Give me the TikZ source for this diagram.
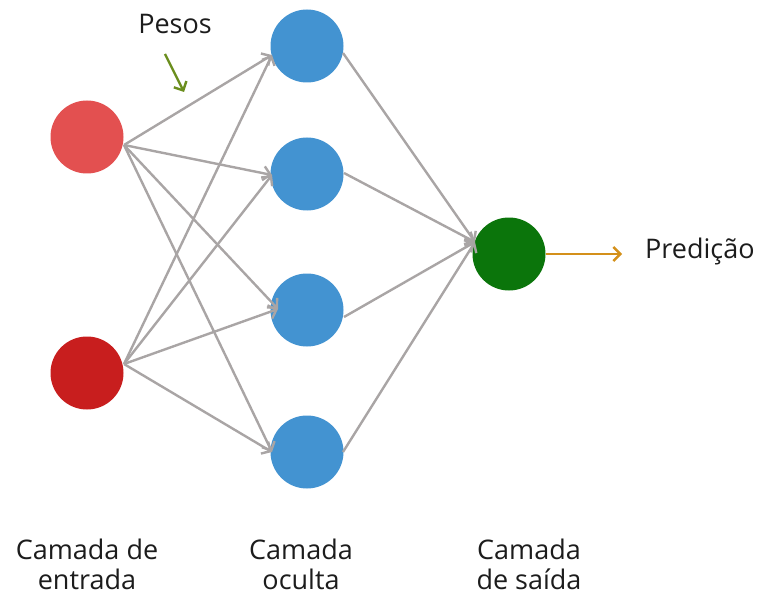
\documentclass[tikz,border=0pt]{standalone}
\usepackage{fontspec}
\setmainfont{Open Sans}
\usetikzlibrary{arrows.meta}
\definecolor{inA}{HTML}{E35050}
\definecolor{inB}{HTML}{C81E1E}
\definecolor{hid}{HTML}{4393D1}
\definecolor{outc}{HTML}{0B750B}
\definecolor{edgec}{HTML}{A9A5A5}
\definecolor{predc}{HTML}{D4901A}
\definecolor{pesc}{HTML}{6B8E1E}
\definecolor{txt}{HTML}{1C1C1C}
\begin{document}
\begin{tikzpicture}[x=1pt,y=-1pt,
  neuron/.style={circle,minimum size=73pt,inner sep=0pt},
  tip/.style={-{Straight Barb[length=7pt,width=14pt]}},
  edge/.style={draw=edgec,line width=2.4pt,tip},
  lbl/.style={font=\fontsize{27}{30}\selectfont,text=txt,align=center,inner sep=0pt},
]
\useasboundingbox (0,0) rectangle (757,596);
\node[neuron,fill=inA] (i1) at (87,137) {};
\node[neuron,fill=inB] (i2) at (87,373) {};
\node[neuron,fill=hid] (h1) at (307,46) {};
\node[neuron,fill=hid] (h2) at (307,174) {};
\node[neuron,fill=hid] (h3) at (307,310) {};
\node[neuron,fill=hid] (h4) at (307,452) {};
\node[neuron,fill=outc] (o) at (509,254) {};
% input 1 edges
\draw[edge] ([shift={(37,8)}]i1.center) -- ([shift={(-35,9)}]h1.center);
\draw[edge] ([shift={(37,8)}]i1.center) -- ([shift={(-35,1)}]h2.center);
\draw[edge] ([shift={(37,8)}]i1.center) -- ([shift={(-29,-1)}]h3.center);
\draw[edge] ([shift={(37,8)}]i1.center) -- ([shift={(-35,0)}]h4.center);
% input 2 edges
\draw[edge] ([shift={(37,-9)}]i2.center) -- ([shift={(-35,9)}]h1.center);
\draw[edge] ([shift={(37,-9)}]i2.center) -- ([shift={(-35,1)}]h2.center);
\draw[edge] ([shift={(37,-9)}]i2.center) -- ([shift={(-29,-1)}]h3.center);
\draw[edge] ([shift={(37,-9)}]i2.center) -- ([shift={(-35,0)}]h4.center);
% hidden to output
\draw[edge] ([shift={(36,7)}]h1.center) -- ([shift={(-34,-12)}]o.center);
\draw[edge] ([shift={(37,-1)}]h2.center) -- ([shift={(-34,-12)}]o.center);
\draw[edge] ([shift={(37,7)}]h3.center) -- ([shift={(-34,-12)}]o.center);
\draw[edge] ([shift={(36,0)}]h4.center) -- ([shift={(-34,-12)}]o.center);
% prediction
\node[lbl,anchor=west] (pred) at (645,251) {Predição};
\coordinate (pend) at (622,254);
\draw[draw=predc,line width=2.4pt,tip] (o.east) -- (pend);
% pesos
\node[lbl] (pesos) at (175,24) {Pesos};
\coordinate (pa) at (165,54);
\coordinate (pb) at (184,92);
\draw[draw=pesc,line width=2.4pt,tip] (pa) -- (pb);
% layer labels
\node[lbl] (l1) at (87,564) {Camada de\\entrada};
\node[lbl] (l2) at (301,564) {Camada\\oculta};
\node[lbl] (l3) at (529,564) {Camada\\de saída};
\end{tikzpicture}
\end{document}
